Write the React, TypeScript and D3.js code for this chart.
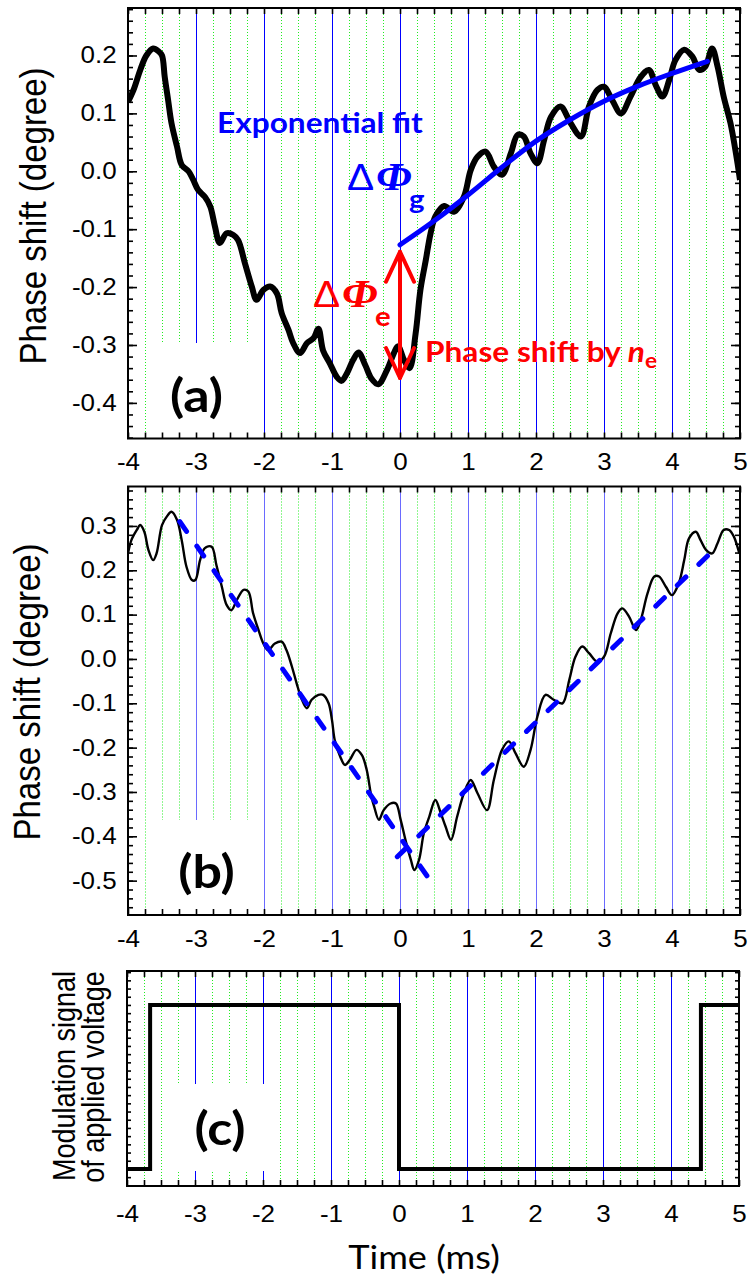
import React, { useRef, useEffect } from 'react';
import * as d3 from 'd3';

// shared time axis (ms)
const timeTicks = [-4, -3, -2, -1, 0, 1, 2, 3, 4, 5];
const phaseTicksA = [-0.4, -0.3, -0.2, -0.1, 0.0, 0.1, 0.2];
const phaseTicksB = [-0.5, -0.4, -0.3, -0.2, -0.1, 0.0, 0.1, 0.2, 0.3];

// (a) measured phase shift (degree)
const traceATime = [
  -4.0, -3.92, -3.82, -3.73, -3.63, -3.55, -3.5, -3.46, -3.41, -3.36, -3.28, -3.21, -3.11, -3.04,
  -2.97, -2.87, -2.79, -2.72, -2.65, -2.55, -2.45, -2.38, -2.28, -2.18, -2.11, -2.01, -1.91, -1.81,
  -1.74, -1.64, -1.57, -1.47, -1.37, -1.27, -1.2, -1.13, -1.03, -0.93, -0.86, -0.78, -0.69, -0.61,
  -0.51, -0.42, -0.32, -0.19, -0.09, -0.03, 0.06, 0.14, 0.23, 0.3, 0.38, 0.45, 0.52, 0.65, 0.79,
  0.94, 1.04, 1.14, 1.26, 1.38, 1.5, 1.63, 1.73, 1.82, 1.92, 2.02, 2.12, 2.22, 2.36, 2.51, 2.66,
  2.78, 2.9, 3.0, 3.12, 3.25, 3.39, 3.54, 3.66, 3.76, 3.86, 3.96, 4.05, 4.18, 4.3, 4.4, 4.49, 4.59,
  4.67, 4.76, 4.86, 4.94, 5.0,
];
const traceAPhase = [
  0.12, 0.14, 0.175, 0.2, 0.212, 0.207, 0.2, 0.163, 0.123, 0.083, 0.043, 0.011, 0.0, -0.015,
  -0.032, -0.044, -0.061, -0.096, -0.124, -0.107, -0.11, -0.119, -0.159, -0.199, -0.222, -0.205, -0.199, -0.211,
  -0.245, -0.274, -0.297, -0.314, -0.297, -0.288, -0.272, -0.31, -0.332, -0.355, -0.362, -0.349, -0.326, -0.313,
  -0.335, -0.358, -0.368, -0.343, -0.314, -0.302, -0.326, -0.34, -0.28, -0.205, -0.153, -0.107, -0.078, -0.06, -0.07,
  -0.044, 0.002, 0.025, 0.034, 0.008, -0.006, 0.031, 0.063, 0.06, 0.031, 0.014, 0.054, 0.094, 0.112, 0.083, 0.06,
  0.112, 0.14, 0.146, 0.123, 0.1, 0.129, 0.163, 0.175, 0.149, 0.129, 0.158, 0.192, 0.21, 0.198, 0.175, 0.181, 0.212,
  0.181, 0.129, 0.083, 0.031, -0.015,
];

// (a) exponential fit
const fitATime = [0, 0.5, 1, 1.5, 2, 2.5, 3, 3.5, 4, 4.52];
const fitAPhase = [-0.127, -0.086, -0.041, 0.007, 0.052, 0.089, 0.121, 0.147, 0.169, 0.19];

// (a) phase jump by n_e at switching
const jumpTime = 0;
const jumpFrom = -0.357;
const jumpTo = -0.139;

// (b) measured phase shift (degree)
const traceBTime = [
  -4.0, -3.95, -3.87, -3.82, -3.76, -3.7, -3.63, -3.58, -3.5, -3.43, -3.36, -3.28, -3.21, -3.14,
  -3.06, -3.01, -2.94, -2.87, -2.77, -2.7, -2.62, -2.55, -2.48, -2.4, -2.3, -2.23, -2.16, -2.08,
  -2.01, -1.94, -1.84, -1.74, -1.67, -1.59, -1.52, -1.45, -1.37, -1.3, -1.2, -1.13, -1.05, -1.0,
  -0.96, -0.88, -0.81, -0.74, -0.64, -0.56, -0.49, -0.42, -0.38, -0.31, -0.24, -0.14, -0.06, 0.01,
  0.08, 0.16, 0.21, 0.28, 0.35, 0.43, 0.52, 0.6, 0.67, 0.75, 0.84, 0.94, 1.04, 1.14, 1.28, 1.38,
  1.5, 1.6, 1.7, 1.82, 1.92, 2.02, 2.14, 2.26, 2.39, 2.49, 2.58, 2.68, 2.78, 2.9, 3.0, 3.1, 3.2,
  3.27, 3.37, 3.47, 3.54, 3.64, 3.74, 3.81, 3.91, 4.0, 4.1, 4.18, 4.25, 4.35, 4.42, 4.5, 4.59, 4.67,
  4.76, 4.84, 4.91, 4.99,
];
const traceBPhase = [
  0.238, 0.268, 0.291, 0.302, 0.287, 0.246, 0.223, 0.238, 0.302, 0.321, 0.332, 0.314, 0.268, 0.208,
  0.178, 0.178, 0.223, 0.25, 0.253, 0.212, 0.163, 0.122, 0.11, 0.133, 0.156, 0.152, 0.103, 0.065,
  0.035, 0.02, 0.035, 0.039, 0.02, -0.017, -0.055, -0.089, -0.111, -0.092, -0.081, -0.081, -0.1, -0.138,
  -0.183, -0.22, -0.239, -0.228, -0.205, -0.217, -0.25, -0.311, -0.333, -0.363, -0.341, -0.326, -0.326, -0.363,
  -0.408, -0.453, -0.476, -0.453, -0.393, -0.356, -0.318, -0.348, -0.378, -0.408, -0.356, -0.303, -0.273, -0.303, -0.341, -0.273,
  -0.205, -0.186, -0.213, -0.243, -0.205, -0.13, -0.081, -0.092, -0.1, -0.047, 0.005, 0.028, 0.013, -0.006, 0.005, 0.058, 0.103,
  0.114, 0.095, 0.065, 0.088, 0.148, 0.186, 0.186, 0.163, 0.144, 0.171, 0.223, 0.272, 0.287, 0.268, 0.246, 0.238, 0.261,
  0.291, 0.291, 0.276, 0.238,
];

// (b) linear trends
const fallBTime = [-3.24, 0.4];
const fallBPhase = [0.31, -0.49];
const riseBTime = [-0.04, 4.54];
const riseBPhase = [-0.446, 0.235];

// (c) modulation signal of applied voltage
const stepTime = [-4, -3.66, 0, 4.44, 5];
const stepLevel = [0, 1, 0, 1, 1];

const STRETCH = 1.13;
const TICK_FONT = '"Liberation Sans", Arial, sans-serif';
const NOTE_FONT = 'Lato, "Open Sans", sans-serif';

type Panel = {
  id: string;
  x: d3.ScaleLinear<number, number>;
  y: d3.ScaleLinear<number, number>;
  majors: number[];
  minorStep: number;
  box: [number, number, number, number];
  blue: string;
  labelPad: number;
  showYLabels: boolean;
};

const App: React.FC = () => {
  const svgRef = useRef<SVGSVGElement>(null);

  useEffect(() => {
    const svg = d3.select(svgRef.current);
    svg.selectAll('*').remove();

    const xA = d3.scaleLinear().domain([-4, 5]).range([128, 740]);
    const xC = d3.scaleLinear().domain([-4, 5]).range([127, 739]);
    const yA = d3.scaleLinear().domain([-0.4615, 0.282]).range([438.5, 8]);
    const yB = d3.scaleLinear().domain([-0.5775, 0.389]).range([915, 486.5]);
    const yC = d3.scaleLinear().domain([-0.104, 1.207]).range([1186, 971]);

    const panels: Panel[] = [
      { id: 'a', x: xA, y: yA, majors: phaseTicksA, minorStep: 0.02, box: [152, 343, 255, 438.5], blue: '#0000ff', labelPad: 15, showYLabels: true },
      { id: 'b', x: xA, y: yB, majors: phaseTicksB, minorStep: 0.02, box: [152, 820, 255, 915], blue: '#6a6aff', labelPad: 15.5, showYLabels: true },
      { id: 'c', x: xC, y: yC, majors: [], minorStep: 0.05, box: [170, 1084, 270, 1171], blue: '#0000ff', labelPad: 20, showYLabels: false },
    ];

    const quarters = d3.range(-16, 21).map(i => i * 0.25);
    const inner = quarters.filter(q => q > -4 && q < 5);

    const styleAxis = (g: d3.Selection<SVGGElement, unknown, null, undefined>) => {
      g.select('.domain').remove();
      g.attr('font-family', TICK_FONT).attr('font-size', 23);
      g.selectAll('line').attr('stroke', '#000').attr('stroke-width', 1.6);
      g.selectAll('text').attr('fill', '#000').attr('transform', `scale(${STRETCH},1)`);
    };

    panels.forEach(p => {
      const [x0, x1] = p.x.range();
      const [yb, yt] = p.y.range();
      const root = svg.append('g');

      // vertical grid: blue at whole ms, dotted green at quarters
      root.append('g')
        .attr('transform', 'translate(0.5,0)')
        .selectAll('line')
        .data(inner)
        .join('line')
        .attr('x1', d => Math.round(p.x(d)))
        .attr('x2', d => Math.round(p.x(d)))
        .attr('y1', yt)
        .attr('y2', yb)
        .attr('stroke', d => (Number.isInteger(d) ? p.blue : '#22ee22'))
        .attr('stroke-width', 1)
        .attr('stroke-dasharray', d => (Number.isInteger(d) ? null : '1,2'));

      // white box behind the panel letter
      root.append('rect')
        .attr('x', p.box[0]).attr('y', p.box[1])
        .attr('width', p.box[2] - p.box[0]).attr('height', p.box[3] - p.box[1])
        .attr('fill', '#fff');

      // y ticks
      const [d0, d1] = p.y.domain();
      const minors = d3.range(Math.ceil(d0 / p.minorStep), Math.floor(d1 / p.minorStep) + 1).map(i => i * p.minorStep);

      root.append('g').attr('transform', `translate(${x0},0)`)
        .call(d3.axisLeft(p.y).tickValues(minors).tickSize(p.id === 'c' ? -4 : -5).tickFormat(() => ''))
        .call(styleAxis);
      root.append('g').attr('transform', `translate(${x1},0)`)
        .call(d3.axisRight(p.y).tickValues(minors).tickSize(p.id === 'c' ? -4 : -5).tickFormat(() => ''))
        .call(styleAxis);
      if (p.showYLabels) {
        root.append('g').attr('transform', `translate(${x0},0)`)
          .call(d3.axisLeft(p.y).tickValues(p.majors).tickSize(-9).tickPadding(10)
            .tickFormat(d => (+d).toFixed(1)))
          .call(styleAxis);
        root.append('g').attr('transform', `translate(${x1},0)`)
          .call(d3.axisRight(p.y).tickValues(p.majors).tickSize(-9).tickFormat(() => ''))
          .call(styleAxis);
      }

      // x ticks
      root.append('g').attr('transform', `translate(0,${yb})`)
        .call(d3.axisBottom(p.x).tickValues(quarters).tickSize(-6).tickPadding(p.labelPad)
          .tickFormat(d => (timeTicks.includes(+d) ? String(d) : '')))
        .call(styleAxis);
      root.append('g').attr('transform', `translate(0,${yt})`)
        .call(d3.axisTop(p.x).tickValues(quarters).tickSize(-6).tickFormat(() => ''))
        .call(styleAxis);

      // frame
      root.append('rect')
        .attr('x', x0).attr('y', yt).attr('width', x1 - x0).attr('height', yb - yt)
        .attr('fill', 'none').attr('stroke', '#000').attr('stroke-width', 2);

      root.append('clipPath').attr('id', `clip-${p.id}`)
        .append('rect').attr('x', x0 + 1).attr('y', yt + 1).attr('width', x1 - x0 - 2).attr('height', yb - yt - 2);

      // panel letter
      root.append('text')
        .attr('transform', `translate(${(p.box[0] + p.box[2]) / 2 + (p.id === 'a' ? -7 : p.id === 'b' ? 3 : 0)},${p.box[3] - (p.id === 'c' ? 26 : 27)}) scale(${STRETCH},1)`)
        .attr('text-anchor', 'middle')
        .attr('font-family', NOTE_FONT).attr('font-weight', 700).attr('font-size', 46)
        .text(`(${p.id})`);
    });

    const pointsOf = (ts: number[], vs: number[]) => ts.map((t, i) => [t, vs[i]] as [number, number]);

    // (a) trace and fit
    const lineA = d3.line<[number, number]>().x(d => xA(d[0])).y(d => yA(d[1])).curve(d3.curveCatmullRom.alpha(0.5));
    svg.append('path')
      .attr('clip-path', 'url(#clip-a)')
      .attr('d', lineA(pointsOf(traceATime, traceAPhase)))
      .attr('fill', 'none').attr('stroke', '#000').attr('stroke-width', 6).attr('stroke-linejoin', 'round');
    svg.append('path')
      .attr('d', d3.line<[number, number]>().x(d => xA(d[0])).y(d => yA(d[1])).curve(d3.curveMonotoneX)(pointsOf(fitATime, fitAPhase)))
      .attr('fill', 'none').attr('stroke', '#0000ff').attr('stroke-width', 5).attr('stroke-linecap', 'round');

    // (a) double arrow
    const ax = xA(jumpTime);
    const aTop = yA(jumpTo);
    const aBot = yA(jumpFrom);
    const arrow = svg.append('g').attr('stroke', '#ff0000').attr('stroke-width', 4).attr('fill', 'none')
      .attr('stroke-linecap', 'round').attr('stroke-linejoin', 'round');
    arrow.append('line').attr('x1', ax).attr('x2', ax).attr('y1', aTop).attr('y2', aBot);
    arrow.append('path').attr('d', `M${ax - 14},${aTop + 30}L${ax},${aTop}L${ax + 14},${aTop + 30}`);
    arrow.append('path').attr('d', `M${ax - 14},${aBot - 30}L${ax},${aBot}L${ax + 14},${aBot - 30}`);

    // (a) annotations
    const note = (x: number, y: number, color: string, size: number) =>
      svg.append('text')
        .attr('transform', `translate(${x},${y}) scale(${STRETCH},1)`)
        .attr('fill', color).attr('font-size', size);

    note(217, 133, '#0000ff', 28).attr('font-family', NOTE_FONT).attr('font-weight', 700).text('Exponential fit');
    note(347, 190, '#0000ff', 36).attr('font-family', TICK_FONT).text('\u0394');
    note(376, 190, '#0000ff', 40).attr('font-family', '"Liberation Serif", serif').attr('font-weight', 700).attr('font-style', 'italic').text('\u03A6');
    note(409, 209, '#0000ff', 26).attr('font-family', NOTE_FONT).attr('font-weight', 700).text('g');

    note(313, 307, '#ff0000', 36).attr('font-family', TICK_FONT).text('\u0394');
    note(342, 307, '#ff0000', 40).attr('font-family', '"Liberation Serif", serif').attr('font-weight', 700).attr('font-style', 'italic').text('\u03A6');
    note(375, 326, '#ff0000', 26).attr('font-family', NOTE_FONT).attr('font-weight', 700).text('e');

    const ne = note(425, 362, '#ff0000', 28).attr('font-family', NOTE_FONT).attr('font-weight', 700);
    ne.append('tspan').text('Phase shift by ');
    ne.append('tspan').attr('font-style', 'italic').text('n');
    ne.append('tspan').attr('font-size', 20).attr('dy', 6).text('e');

    // (b) trace and trends
    const lineB = d3.line<[number, number]>().x(d => xA(d[0])).y(d => yB(d[1])).curve(d3.curveCatmullRom.alpha(0.5));
    svg.append('path')
      .attr('clip-path', 'url(#clip-b)')
      .attr('d', lineB(pointsOf(traceBTime, traceBPhase)))
      .attr('fill', 'none').attr('stroke', '#000').attr('stroke-width', 2.4).attr('stroke-linejoin', 'round');
    [pointsOf(fallBTime, fallBPhase), pointsOf(riseBTime, riseBPhase)].forEach(pts => {
      svg.append('path')
        .attr('d', d3.line<[number, number]>().x(d => xA(d[0])).y(d => yB(d[1]))(pts))
        .attr('fill', 'none').attr('stroke', '#0000ff').attr('stroke-width', 5)
        .attr('stroke-dasharray', '12,18').attr('stroke-linecap', 'round');
    });

    // (c) step signal
    svg.append('path')
      .attr('clip-path', 'url(#clip-c)')
      .attr('d', d3.line<[number, number]>().x(d => xC(d[0])).y(d => yC(d[1])).curve(d3.curveStepAfter)(pointsOf(stepTime, stepLevel)))
      .attr('fill', 'none').attr('stroke', '#000').attr('stroke-width', 4).attr('stroke-linejoin', 'miter');

    // axis titles
    const ytitle = (x: number, y: number, size: number, txt: string) =>
      svg.append('text')
        .attr('transform', `translate(${x},${y}) scale(${STRETCH},1) rotate(-90)`)
        .attr('text-anchor', 'middle')
        .attr('font-family', TICK_FONT).attr('font-size', size)
        .text(txt);
    ytitle(46, 216, 33, 'Phase shift (degree)');
    ytitle(40, 692, 33, 'Phase shift (degree)');
    ytitle(75, 1076, 27, 'Modulation signal');
    ytitle(104, 1077, 27, 'of applied voltage');

    svg.append('text')
      .attr('transform', `translate(424,1269) scale(${STRETCH},1)`)
      .attr('text-anchor', 'middle')
      .attr('font-family', NOTE_FONT).attr('font-size', 32)
      .text('Time (ms)');
  }, []);

  return (
    <svg ref={svgRef} width={748} height={1279}
      style={{ position: 'absolute', left: 0, top: 0, background: '#fff' }} />
  );
};

export default App;
